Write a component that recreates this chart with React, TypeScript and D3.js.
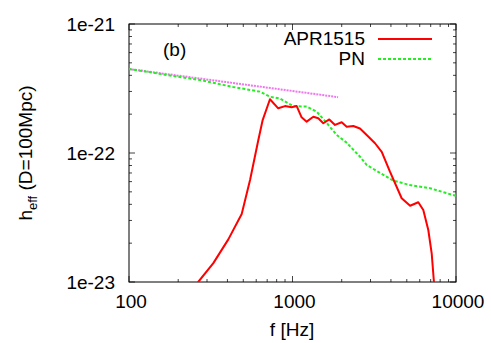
import React from "react";
import * as d3 from "d3";

// APR1515 spectrum (f [Hz], h_eff)
const aprFreq = [250, 265, 328, 405, 489, 550, 618, 657, 728, 818, 900, 988, 1061, 1137, 1221, 1341, 1438, 1543, 1679, 1820, 1999, 2145, 2355, 2586, 2843, 3197, 3514, 3945, 4652, 5240, 5880, 6310, 6770, 7100, 7330, 7450];
const aprH = [8.6e-24, 1.0e-23, 1.4e-23, 2.14e-23, 3.37e-23, 6.18e-23, 1.26e-22, 1.8e-22, 2.61e-22, 2.22e-22, 2.31e-22, 2.26e-22, 2.31e-22, 1.89e-22, 1.75e-22, 1.91e-22, 1.86e-22, 1.7e-22, 1.82e-22, 1.65e-22, 1.73e-22, 1.6e-22, 1.62e-22, 1.55e-22, 1.38e-22, 1.19e-22, 1.02e-22, 7.16e-23, 4.46e-23, 3.9e-23, 4.15e-23, 3.62e-23, 2.53e-23, 1.67e-23, 1.0e-23, 8.5e-24];

// PN spectrum
const pnFreq = [100, 170, 272, 433, 632, 728, 839, 1008, 1221, 1406, 1619, 1864, 2145, 2586, 2843, 4140, 5240, 6940, 10000];
const pnH = [4.48e-22, 4.03e-22, 3.68e-22, 3.25e-22, 2.99e-22, 2.73e-22, 2.64e-22, 2.31e-22, 2.29e-22, 2.09e-22, 1.71e-22, 1.38e-22, 1.2e-22, 9.37e-23, 8.07e-23, 6.1e-23, 5.64e-23, 5.33e-23, 4.65e-23];

// Newtonian reference line
const refFreq = [100, 1900];
const refH = [4.48e-22, 2.71e-22];

const xTickValues = [100, 1000, 10000];
const xTickLabels = ["100", "1000", "10000"];
const yTickValues = [1e-21, 1e-22, 1e-23];
const yTickLabels = ["1e-21", "1e-22", "1e-23"];

const legendLabels = ["APR1515", "PN"];

export default function App() {
  const left = 129, right = 456, top = 24, bottom = 282;
  const x = d3.scaleLog().domain([100, 10000]).range([left, right]);
  const y = d3.scaleLog().domain([1e-23, 1e-21]).range([bottom, top]);
  const line = d3
    .line<[number, number]>()
    .x((d) => x(d[0]))
    .y((d) => y(d[1]));
  const zip = (a: number[], b: number[]) => a.map((v, i) => [v, b[i]] as [number, number]);

  const font = "'Liberation Sans', Arial, Helvetica, sans-serif";
  const fs = 19;

  const xMinor: number[] = [];
  for (const dec of [100, 1000]) for (let k = 2; k <= 9; k++) xMinor.push(dec * k);
  const yMinor: number[] = [];
  for (const dec of [1e-23, 1e-22]) for (let k = 2; k <= 9; k++) yMinor.push(dec * k);

  const tickColor = "#444";
  return (
    <svg width={491} height={343} style={{ position: "absolute", left: 0, top: 0 }} fontFamily={font}>
      <defs>
        <clipPath id="plotclip">
          <rect x={left} y={top} width={right - left} height={bottom - top} />
        </clipPath>
      </defs>
      <rect x={0} y={0} width={491} height={343} fill="white" />
      <g stroke={tickColor} strokeWidth={1}>
        {xTickValues.map((v) => (
          <g key={"xt" + v}>
            <line x1={x(v)} x2={x(v)} y1={bottom} y2={bottom - 6} />
            <line x1={x(v)} x2={x(v)} y1={top} y2={top + 6} />
          </g>
        ))}
        {xMinor.map((v) => (
          <g key={"xm" + v}>
            <line x1={x(v)} x2={x(v)} y1={bottom} y2={bottom - 3} />
            <line x1={x(v)} x2={x(v)} y1={top} y2={top + 3} />
          </g>
        ))}
        {yTickValues.map((v) => (
          <g key={"yt" + v}>
            <line x1={left} x2={left + 6} y1={y(v)} y2={y(v)} />
            <line x1={right} x2={right - 6} y1={y(v)} y2={y(v)} />
          </g>
        ))}
        {yMinor.map((v) => (
          <g key={"ym" + v}>
            <line x1={left} x2={left + 3} y1={y(v)} y2={y(v)} />
            <line x1={right} x2={right - 3} y1={y(v)} y2={y(v)} />
          </g>
        ))}
      </g>
      <rect x={left} y={top} width={right - left} height={bottom - top} fill="none" stroke="black" strokeWidth={1} />

      <g clipPath="url(#plotclip)" fill="none">
        <path d={line(zip(refFreq, refH)) || ""} stroke="#ee77ee" strokeWidth={2} strokeDasharray="2,1" />
        <path d={line(zip(pnFreq, pnH)) || ""} stroke="#22ee22" strokeWidth={2} strokeDasharray="3,2" />
        <path d={line(zip(aprFreq, aprH)) || ""} stroke="#ff0000" strokeWidth={2} strokeLinejoin="round" />
      </g>

      {xTickValues.map((v, i) => (
        <text key={"xl" + v} x={x(v) + 2} y={308} textAnchor="middle" fontSize={fs} fill="black">
          {xTickLabels[i]}
        </text>
      ))}
      {yTickValues.map((v, i) => (
        <text key={"yl" + v} x={115} y={y(v) + 7} textAnchor="end" fontSize={fs} fill="black">
          {yTickLabels[i]}
        </text>
      ))}

      <text x={292} y={336} textAnchor="middle" fontSize={fs} fill="black">f [Hz]</text>
      <text transform="rotate(-90)" x={-153} y={32} textAnchor="middle" fontSize={fs} fill="black">
        h<tspan fontSize={13} dy={5}>eff</tspan>
        <tspan dy={-5}> (D=100Mpc)</tspan>
      </text>

      <text x={163} y={56} fontSize={fs} fill="black">(b)</text>

      <text x={365} y={45} textAnchor="end" fontSize={fs} fill="black">{legendLabels[0]}</text>
      <line x1={378} x2={432} y1={39} y2={39} stroke="#ff0000" strokeWidth={2} />
      <text x={365} y={65} textAnchor="end" fontSize={fs} fill="black">{legendLabels[1]}</text>
      <line x1={378} x2={432} y1={59} y2={59} stroke="#22ee22" strokeWidth={2} strokeDasharray="3,2" />
    </svg>
  );
}
